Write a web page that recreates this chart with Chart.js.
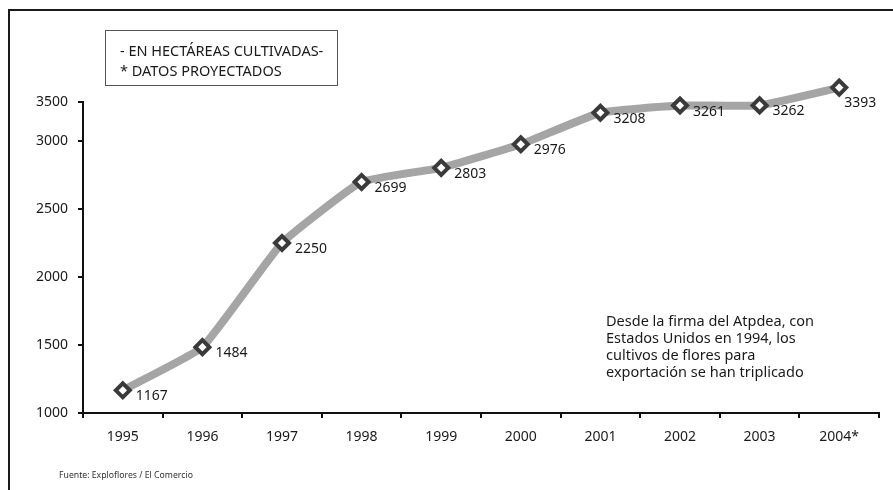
<!DOCTYPE html>
<html>
<head>
<meta charset="utf-8">
<script src="https://cdn.jsdelivr.net/npm/chart.js@4.4.1/dist/chart.umd.min.js"></script>
<style>
  html, body { margin: 0; padding: 0; background: #fff; }
  #wrap { position: relative; width: 893px; height: 490px; overflow: hidden; font-family: 'Noto Sans', sans-serif; color: #1a1a1a; }
  #chart { position: absolute; left: 0; top: 0; }
  .note { position: absolute; font-size: 14.5px; line-height: 17px; white-space: nowrap; }
  #units { left: 105px; top: 30px; width: 233px; height: 56px; border: 1.5px solid #555; box-sizing: border-box; padding: 9px 0 0 14px; line-height: 20px; font-size: 14.5px; }
  #comment { left: 606px; top: 312px; }
  #source { left: 59px; top: 470px; font-size: 8.7px; line-height: 10px; color: #333; }
</style>
</head>
<body>
<div id="wrap">
  <canvas id="chart" width="893" height="490"></canvas>
  <div class="note" id="units">- EN HECTÁREAS CULTIVADAS-<br>* DATOS PROYECTADOS</div>
  <div class="note" id="comment">Desde la firma del Atpdea, con<br>Estados Unidos en 1994, los<br>cultivos de flores para<br>exportación se han triplicado</div>
  <div class="note" id="source">Fuente: Exploflores / El Comercio</div>
</div>
<script>
// Hectares of flowers grown, 1995-2004 (2004 projected)
const years = ['1995', '1996', '1997', '1998', '1999', '2000', '2001', '2002', '2003', '2004*'];
const hectares = [1167, 1484, 2250, 2699, 2803, 2976, 3208, 3261, 3262, 3393];
const yTickValues = [1000, 1500, 2000, 2500, 3000];
const yTickLabels = ['1000', '1500', '2000', '2500', '3000', '3500'];

const textColor = '#1a1a1a';
const font = { family: "'Noto Sans', sans-serif", size: 14 };

// outer frame: left and top rules
const framePlugin = {
  id: 'frame',
  beforeDraw(c) {
    const { ctx } = c;
    ctx.save();
    ctx.strokeStyle = '#1a1a1a';
    ctx.lineWidth = 2;
    ctx.beginPath();
    ctx.moveTo(9, 490);
    ctx.lineTo(9, 10);
    ctx.lineTo(893, 10);
    ctx.stroke();
    ctx.restore();
  },
};

// markers sticking out above the plot area get drawn here too,
// then the value written beside each marker
const valueLabels = {
  id: 'valueLabels',
  afterDatasetsDraw(c) {
    const { ctx, chartArea } = c;
    const meta = c.getDatasetMeta(0);
    ctx.save();
    meta.data.forEach((pt) => {
      if (pt.y < chartArea.top) pt.draw(ctx);
    });
    ctx.font = `${font.size}px ${font.family}`;
    ctx.fillStyle = textColor;
    ctx.textAlign = 'left';
    ctx.textBaseline = 'middle';
    meta.data.forEach((pt, i) => {
      // last label sits under its marker, the rest to the right
      const last = i === meta.data.length - 1;
      ctx.fillText(String(hectares[i]), pt.x + (last ? 5 : 13), pt.y + (last ? 15 : 6));
    });
    ctx.restore();
  },
};

const chart = new Chart(document.getElementById('chart'), {
  type: 'line',
  data: {
    labels: years,
    datasets: [{
      data: hectares,
      borderColor: '#a5a5a5',
      borderWidth: 8,
      tension: 0.12,
      pointStyle: 'rectRot',
      pointRadius: 7,
      pointBorderWidth: 4,
      pointBorderColor: '#3a3a3a',
      pointBackgroundColor: '#fff',
      clip: false,
    }],
  },
  options: {
    responsive: false,
    animation: false,
    layout: {
      padding: { top: 102, right: 14, bottom: 37, left: 0 },
    },
    scales: {
      x: {
        offset: true,
        grid: {
          offset: true,
          drawOnChartArea: false,
          tickLength: 5,
          color: '#111',
          lineWidth: 2,
        },
        border: { color: '#111', width: 2 },
        ticks: { color: textColor, font, padding: 11, maxRotation: 0 },
        afterFit: (s) => { s.height = 40; },
      },
      y: {
        min: 1000,
        max: 3287,
        afterBuildTicks: (s) => {
          s.ticks = yTickValues.concat([s.max]).map((v) => ({ value: v }));
        },
        grid: {
          drawOnChartArea: false,
          tickLength: 5,
          color: '#111',
          lineWidth: 2,
        },
        border: { color: '#111', width: 2 },
        ticks: {
          color: textColor,
          font,
          padding: 10,
          callback: (v, i) => yTickLabels[i],
        },
        afterFit: (s) => { s.width = 83; },
      },
    },
    plugins: {
      legend: { display: false },
      tooltip: { enabled: false },
    },
  },
  plugins: [framePlugin, valueLabels],
});
</script>
</body>
</html>
